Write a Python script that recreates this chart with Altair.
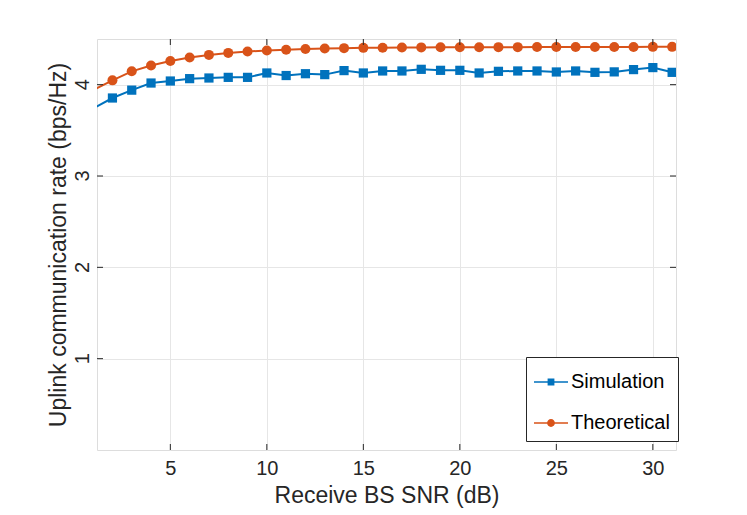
import altair as alt
import pandas as pd

snr = list(range(1, 32))
simulation = [3.74, 3.854, 3.94, 4.018, 4.04, 4.066, 4.073, 4.08, 4.08, 4.128,
              4.10, 4.12, 4.11, 4.154, 4.128, 4.15, 4.15, 4.168, 4.157, 4.157,
              4.128, 4.146, 4.15, 4.15, 4.139, 4.15, 4.135, 4.14, 4.165, 4.187, 4.135]
theoretical = [3.94, 4.047, 4.146, 4.21, 4.26, 4.297, 4.326, 4.348, 4.363, 4.374,
               4.382, 4.39, 4.396, 4.40, 4.403, 4.405, 4.407, 4.408, 4.409, 4.41,
               4.41, 4.411, 4.411, 4.412, 4.412, 4.412, 4.413, 4.413, 4.413, 4.414, 4.414]
series_names = ["Simulation", "Theoretical"]
series_colors = ["#0072BD", "#D95319"]
x_ticks = [5, 10, 15, 20, 25, 30]
y_ticks = [1, 2, 3, 4]
y_tick_labels = ["1", "2", "3", "4"]
x_domain = [1.2, 31.2]
y_domain = [0, 4.5]

df = pd.DataFrame({
    "snr": snr * 2,
    "rate": simulation + theoretical,
    "series": [series_names[0]] * len(snr) + [series_names[1]] * len(snr),
})
xt = pd.DataFrame({"snr": x_ticks})
yt = pd.DataFrame({"rate": y_ticks, "label": y_tick_labels})

W, H = 579, 411
FONT = "Liberation Sans"
TXT = "#262626"

xscale = alt.Scale(domain=x_domain, nice=False, zero=False)
yscale = alt.Scale(domain=y_domain, nice=False, zero=False)

common = dict(grid=True, ticks=False, tickSize=0, domain=False,
              labelFont=FONT, titleFont=FONT, labelColor=TXT, titleColor=TXT,
              titleFontWeight="normal", labelFontWeight="normal",
              gridColor="#e6e6e6", gridWidth=1)
xaxis = alt.Axis(values=x_ticks, title="Receive BS SNR (dB)",
                 labelFontSize=20, titleFontSize=23, labelPadding=8, titlePadding=6,
                 **common)
yaxis = alt.Axis(values=y_ticks, title="Uplink communication rate (bps/Hz)",
                 labels=False, titleFontSize=23, titlePadding=27, **common)

base = alt.Chart(df)
X = alt.X("snr:Q", scale=xscale, axis=xaxis)
Y = alt.Y("rate:Q", scale=yscale, axis=yaxis)

sim_path = ("M-1,-0.045L1,-0.045L1,0.045L-1,0.045Z "
            "M-0.2,-0.2L0.2,-0.2L0.2,0.2L-0.2,0.2Z")
theo_path = ("M-1,-0.045L1,-0.045L1,0.045L-1,0.045Z "
             "M-0.23,0A0.23,0.23 0 1,1 0.23,0A0.23,0.23 0 1,1 -0.23,0Z")

legend = alt.Legend(title=None, orient="none", legendX=429, legendY=318, padding=8,
                    strokeColor="#262626", fillColor="white",
                    labelFont=FONT, labelFontSize=20, labelColor="black",
                    labelOffset=3, symbolSize=1156, symbolOpacity=1,
                    symbolStrokeWidth=0, rowPadding=14, cornerRadius=0)

layers = []
for name, col in zip(series_names, series_colors):
    layers.append(base.transform_filter(alt.datum.series == name)
                  .mark_line(color=col, strokeWidth=2, clip=True)
                  .encode(x=X, y=Y))
layers.append(base.transform_filter(alt.datum.series == series_names[0])
              .transform_filter(alt.datum.snr >= x_domain[0])
              .mark_square(color=series_colors[0], size=85, opacity=1, clip=True)
              .encode(x=X, y=Y))
layers.append(base.transform_filter(alt.datum.series == series_names[1])
              .transform_filter(alt.datum.snr >= x_domain[0])
              .mark_circle(color=series_colors[1], size=100, opacity=1, clip=True)
              .encode(x=X, y=Y))
# legend-defining layer (invisible marks)
layers.append(base.mark_point(filled=True, opacity=0)
              .encode(x=X, y=Y,
                      color=alt.Color("series:N",
                                      scale=alt.Scale(domain=series_names, range=series_colors),
                                      legend=legend),
                      shape=alt.Shape("series:N",
                                      scale=alt.Scale(domain=series_names, range=[sim_path, theo_path]),
                                      legend=legend)))

tick_color = "#262626"
layers.append(alt.Chart(xt).mark_rule(color=tick_color, strokeWidth=1)
              .encode(x=X, y=alt.value(H), y2=alt.value(H - 6)))
layers.append(alt.Chart(xt).mark_rule(color=tick_color, strokeWidth=1)
              .encode(x=X, y=alt.value(0), y2=alt.value(6)))
layers.append(alt.Chart(yt).mark_rule(color=tick_color, strokeWidth=1)
              .encode(y=Y, x=alt.value(0), x2=alt.value(6)))
layers.append(alt.Chart(yt).mark_rule(color=tick_color, strokeWidth=1)
              .encode(y=Y, x=alt.value(W), x2=alt.value(W - 6)))
# rotated y tick labels
layers.append(alt.Chart(yt).mark_text(angle=270, align="center", baseline="middle",
                                      font=FONT, fontSize=20, color=TXT)
              .encode(y=Y, x=alt.value(-14), text="label:N"))

chart = alt.layer(*layers).properties(
    width=W, height=H,
    autosize=alt.AutoSizeParams(type="none"),
    padding={"left": 89, "top": 31, "right": 60, "bottom": 68},
).configure_view(
    stroke="#262626", strokeWidth=1
).configure(background="white")

chart.save("out.html", embed_options={"renderer": "svg", "actions": False})
